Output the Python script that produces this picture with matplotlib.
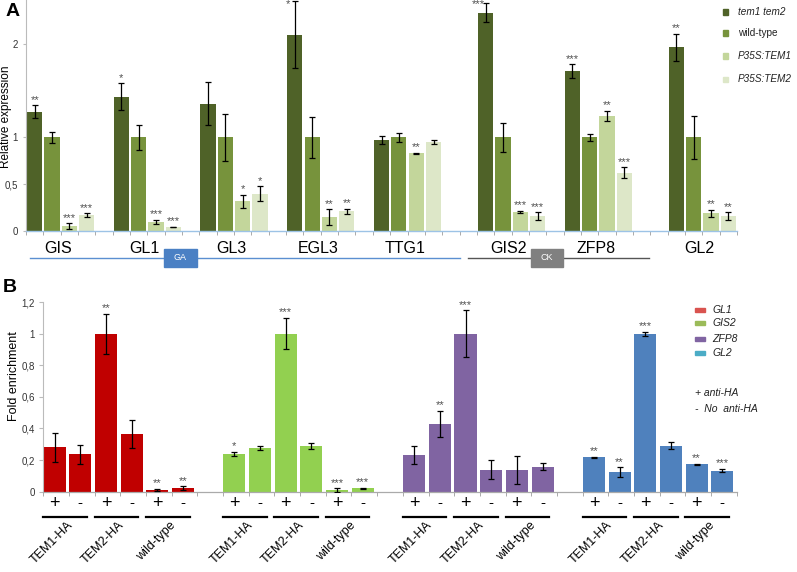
import matplotlib
matplotlib.use("Agg")
import matplotlib.pyplot as plt
from matplotlib.patches import Rectangle
import numpy as np

plt.rcParams['font.family'] = ['Liberation Sans', 'DejaVu Sans']

# ---------------- Panel A data ----------------
genes_A = ['GIS', 'GL1', 'GL3', 'EGL3', 'TTG1', 'GIS2', 'ZFP8', 'GL2']
series_A = ['tem1 tem2', 'wild-type', 'P35S:TEM1', 'P35S:TEM2']
italic_A = [True, False, True, True]
tem1tem2 = [1.276, 1.436, 1.36, 2.10, 0.973, 2.335, 1.71, 1.965]
wildtype = [1.0, 1.0, 1.0, 1.0, 1.0, 1.0, 1.0, 1.0]
p35s_tem1 = [0.053, 0.10, 0.32, 0.146, 0.83, 0.206, 1.233, 0.19]
p35s_tem2 = [0.171, 0.043, 0.40, 0.21, 0.95, 0.16, 0.624, 0.16]
err_tem1tem2 = [0.066, 0.146, 0.23, 0.36, 0.045, 0.10, 0.075, 0.146]
err_wildtype = [0.054, 0.137, 0.25, 0.22, 0.05, 0.15, 0.04, 0.234]
err_p35s_tem1 = [0.03, 0.02, 0.07, 0.085, 0.007, 0.01, 0.052, 0.036]
err_p35s_tem2 = [0.02, 0.005, 0.08, 0.03, 0.02, 0.04, 0.059, 0.04]
stars_tem1tem2 = ['**', '*', '', '*', '', '***', '***', '**']
stars_wildtype = ['', '', '', '', '', '', '', '']
stars_p35s_tem1 = ['***', '***', '*', '**', '**', '***', '**', '**']
stars_p35s_tem2 = ['***', '***', '*', '**', '', '***', '***', '**']
group_start_A = [0, 5, 10, 15, 20, 26, 31, 37]
colors_A = ['#4f6228', '#77933c', '#c3d69b', '#dde7c8']
yticks_A = [0, 0.5, 1, 2]
yticklabels_A = ['0', '0,5', '1', '2']

# ---------------- Panel B data ----------------
genes_B = ['GL1', 'GIS2', 'ZFP8', 'GL2']
conditions_B = ['+', '-', '+', '-', '+', '-']
lines_B = ['TEM1-HA', 'TEM2-HA', 'wild-type']
enrich_GL1 = [0.28, 0.238, 1.0, 0.366, 0.011, 0.021]
enrich_GIS2 = [0.238, 0.276, 1.0, 0.287, 0.011, 0.021]
enrich_ZFP8 = [0.23, 0.428, 1.0, 0.139, 0.137, 0.158]
enrich_GL2 = [0.217, 0.124, 1.0, 0.291, 0.173, 0.133]
err_GL1 = [0.09, 0.06, 0.127, 0.09, 0.008, 0.012]
err_GIS2 = [0.012, 0.015, 0.10, 0.02, 0.01, 0.003]
err_ZFP8 = [0.056, 0.084, 0.148, 0.061, 0.087, 0.023]
err_GL2 = [0.005, 0.03, 0.012, 0.024, 0.003, 0.01]
stars_GL1 = ['', '', '**', '', '**', '**']
stars_GIS2 = ['*', '', '***', '', '***', '***']
stars_ZFP8 = ['', '**', '***', '', '', '']
stars_GL2 = ['**', '**', '***', '', '**', '***']
group_start_B = [0, 7, 14, 21]
colors_B = ['#c00000', '#92d050', '#8064a2', '#4f81bd']
legend_colors_B = ['#d9534f', '#9bbb59', '#8064a2', '#4bacc6']
yticks_B = [0, 0.2, 0.4, 0.6, 0.8, 1.0, 1.2]
yticklabels_B = ['0', '0,2', '0,4', '0,6', '0,8', '1', '1,2']

W, H = 797, 572
fig = plt.figure(figsize=(W / 100, H / 100), dpi=100)

def fx(px):
    return px / W

def fy(py):
    return 1 - py / H

STAR_COLOR = '#505050'

# ================= Panel A =================
axA = fig.add_axes([fx(26), fy(231), fx(737) - fx(26), fy(0) - fy(231)])
valsA = [tem1tem2, wildtype, p35s_tem1, p35s_tem2]
errsA = [err_tem1tem2, err_wildtype, err_p35s_tem1, err_p35s_tem2]
starsA = [stars_tem1tem2, stars_wildtype, stars_p35s_tem1, stars_p35s_tem2]
ylimA = 2.47
for s in range(4):
    xs = np.array(group_start_A) + s + 0.5
    axA.bar(xs, valsA[s], width=0.88, color=colors_A[s], zorder=2)
    axA.errorbar(xs, valsA[s], yerr=errsA[s], fmt='none', ecolor='black',
                 elinewidth=0.9, capsize=2.2, capthick=0.9, zorder=3)
    for x, v, e, st in zip(xs, valsA[s], errsA[s], starsA[s]):
        if st:
            ytop = v + e + 0.005
            xx = x
            if ytop > ylimA - 0.1:
                ytop = ylimA - 0.1
                xx = x - 0.4
            axA.text(xx, ytop, st, ha='center', va='bottom', fontsize=8,
                     color=STAR_COLOR)
axA.set_xlim(0, 41)
axA.set_ylim(0, ylimA)
for sp in ['top', 'right']:
    axA.spines[sp].set_visible(False)
axA.spines['left'].set_color('#bbbbbb')
axA.spines['left'].set_linewidth(0.8)
axA.spines['bottom'].set_color('#9dc3e6')
axA.spines['bottom'].set_linewidth(1.0)
axA.set_yticks(yticks_A)
axA.set_yticklabels(yticklabels_A, fontsize=7, color='#333333')
axA.tick_params(axis='y', length=2, color='#bbbbbb', pad=4)
axA.set_xticks(np.arange(0, 42))
axA.set_xticklabels([])
axA.tick_params(axis='x', length=3, color='#aaaaaa', width=0.7)
fig.text(fx(6), fy(117), 'Relative expression', rotation=90, ha='center',
         va='center', fontsize=8.5)
for g, st in zip(genes_A, group_start_A):
    axA.text(st + 1.85, -0.074, g, transform=axA.get_xaxis_transform(),
             ha='center', va='center', fontsize=11.5, clip_on=False)

# GA / CK annotations
tA = axA.get_xaxis_transform()
yline = -0.117
axA.plot([0.23, 25.0], [yline, yline], transform=tA, color='#5b8fd1',
         lw=1.0, clip_on=False)
axA.plot([25.5, 35.9], [yline, yline], transform=tA, color='#555555',
         lw=1.0, clip_on=False)
fig.patches.append(Rectangle((fx(164), fy(267)), fx(33), 18 / H,
                             transform=fig.transFigure, color='#4a80c4'))
fig.text(fx(180.5), fy(258), 'GA', ha='center', va='center', fontsize=6.5,
         color='white')
fig.patches.append(Rectangle((fx(531), fy(267)), fx(32), 18 / H,
                             transform=fig.transFigure, color='#808080'))
fig.text(fx(547), fy(258), 'CK', ha='center', va='center', fontsize=6.5,
         color='white')

# legend A
leg_y = [12, 33, 56, 79]
for name, it, c, yy in zip(series_A, italic_A, colors_A, leg_y):
    fig.patches.append(Rectangle((fx(723), fy(yy + 2.5)), fx(5), 5 / H,
                                 transform=fig.transFigure, color=c))
    fig.text(fx(738), fy(yy), name, ha='left', va='center', fontsize=7.2,
             style='italic' if it else 'normal', color='#222222')

fig.text(fx(13), fy(11), 'A', ha='center', va='center', fontsize=14,
         fontweight='bold')

# ================= Panel B =================
axB = fig.add_axes([fx(43.3), fy(491.7), fx(736.7) - fx(43.3), fy(302) - fy(491.7)])
valsB = [enrich_GL1, enrich_GIS2, enrich_ZFP8, enrich_GL2]
errsB = [err_GL1, err_GIS2, err_ZFP8, err_GL2]
starsB = [stars_GL1, stars_GIS2, stars_ZFP8, stars_GL2]
tB = axB.get_xaxis_transform()
for g in range(4):
    xs = group_start_B[g] + np.arange(6) + 0.44
    axB.bar(xs, valsB[g], width=0.86, color=colors_B[g], zorder=2)
    axB.errorbar(xs, valsB[g], yerr=errsB[g], fmt='none', ecolor='black',
                 elinewidth=0.9, capsize=2.5, capthick=0.9, zorder=3)
    for x, v, e, st in zip(xs, valsB[g], errsB[g], starsB[g]):
        if st:
            axB.text(x, v + e + 0.004, st, ha='center', va='bottom',
                     fontsize=8, color=STAR_COLOR)
    for x, c in zip(xs, conditions_B):
        axB.text(x, -0.06, c, transform=tB, ha='center', va='center',
                 fontsize=13 if c == '+' else 11, clip_on=False)
    for k, lab in enumerate(lines_B):
        x0 = group_start_B[g] + 2 * k
        axB.plot([x0 + 0.0, x0 + 1.7], [-0.134, -0.134], transform=tB,
                 color='black', lw=1.6, clip_on=False)
        axB.text(x0 + 1.25, -0.145, lab, transform=tB, rotation=45,
                 ha='right', va='top', fontsize=9, clip_on=False)
axB.set_xlim(0, 27)
axB.set_ylim(0, 1.2)
for sp in ['top', 'right']:
    axB.spines[sp].set_visible(False)
axB.spines['left'].set_color('#bbbbbb')
axB.spines['left'].set_linewidth(0.8)
axB.spines['bottom'].set_color('#aaaaaa')
axB.spines['bottom'].set_linewidth(0.9)
axB.set_yticks(yticks_B)
axB.set_yticklabels(yticklabels_B, fontsize=7, color='#333333')
axB.tick_params(axis='y', length=3, color='#bbbbbb', pad=3)
axB.set_xticks(np.arange(0, 28))
axB.set_xticklabels([])
axB.tick_params(axis='x', length=3, color='#aaaaaa', width=0.7)
fig.text(fx(14), fy(376), 'Fold enrichment', rotation=90, ha='center',
         va='center', fontsize=9)

# legend B
legB_y = [310, 323, 339, 353]
for name, c, yy in zip(genes_B, legend_colors_B, legB_y):
    fig.patches.append(Rectangle((fx(695), fy(yy + 2.2)), fx(10), 4.4 / H,
                                 transform=fig.transFigure, color=c))
    fig.text(fx(712), fy(yy), name, ha='left', va='center', fontsize=7.5,
             style='italic', color='#222222')
fig.text(fx(695), fy(393), '+ anti-HA', ha='left', va='center', fontsize=7.5,
         style='italic', color='#222222')
fig.text(fx(695), fy(409), '-  No  anti-HA', ha='left', va='center',
         fontsize=7.5, style='italic', color='#222222')

fig.text(fx(10), fy(288), 'B', ha='center', va='center', fontsize=14,
         fontweight='bold')

fig.savefig('out.png', dpi=100)
